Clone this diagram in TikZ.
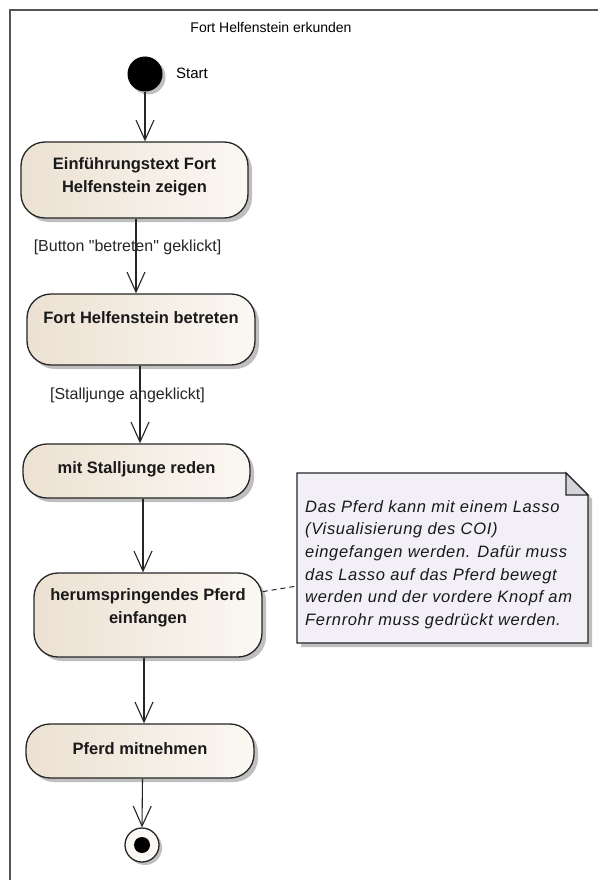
\documentclass[tikz,border=0pt]{standalone}
\usepackage{fontspec}
\newfontfamily\arial{Liberation Sans}
\newfontfamily\notefont[LetterSpace=4]{Liberation Sans}
\usetikzlibrary{arrows.meta,shadows,calc}

\definecolor{frameline}{RGB}{85,85,85}
\definecolor{actleft}{RGB}{236,225,210}
\definecolor{actright}{RGB}{251,248,243}
\definecolor{notefill}{RGB}{242,240,246}
\definecolor{foldfill}{RGB}{214,212,218}
\definecolor{shadowgray}{RGB}{175,175,175}

\tikzset{
  actbox/.style={draw=black!85, line width=1.3pt, rounded corners=24pt,
    left color=actleft, right color=actright, inner sep=0pt,
    drop shadow={shadow xshift=4pt, shadow yshift=-4pt, fill=shadowgray, opacity=0.8}},
  acttext/.style={font=\arial\bfseries\fontsize{16.5}{23}\selectfont, align=center, text=black!90, inner sep=0pt},
  flow/.style={draw=black!85, line width=1.1pt, -{Straight Barb[length=20pt, width=18pt]}},
  guard/.style={font=\arial\fontsize{16}{19}\selectfont, text=black!85, inner sep=0pt},
}

\begin{document}
\begin{tikzpicture}[x=1pt, y=-1pt]
\useasboundingbox (0,0) rectangle (597,880);
\fill[white] (0,0) rectangle (597,880);

% activity frame and its name
\draw[frameline, line width=2.2pt] (10,890) -- (10,10) -- (610,10);
\node[font=\arial\fontsize{14}{16}\selectfont, inner sep=0pt] (title) at (271,27) {Fort Helfenstein erkunden};

% initial node
\node[circle, fill=black, minimum size=35pt, inner sep=0pt,
  drop shadow={shadow xshift=3pt, shadow yshift=-3pt, fill=shadowgray, opacity=0.8}] (start) at (145,74) {};
\node[font=\arial\fontsize{15}{18}\selectfont, inner sep=0pt, anchor=west] (startlbl) at (176,73) {Start};

% actions
\node[actbox, minimum width=227pt, minimum height=76pt] (b1) at (134.5,180) {};
\node[acttext] (t1) at (134.5,177) {Einführungstext Fort\\Helfenstein zeigen};

\node[actbox, minimum width=228pt, minimum height=71pt] (b2) at (141,329.5) {};
\node[acttext] (t2) at (141,318) {Fort Helfenstein betreten};

\node[actbox, minimum width=227pt, minimum height=54pt] (b3) at (136.5,471) {};
\node[acttext] (t3) at (136.5,469) {mit Stalljunge reden};

\node[actbox, minimum width=228pt, minimum height=84pt] (b4) at (148,615) {};
\node[acttext] (t4) at (148,608) {herumspringendes Pferd\\einfangen};

\node[actbox, minimum width=228pt, minimum height=54pt] (b5) at (140,751) {};
\node[acttext] (t5) at (140,749) {Pferd mitnehmen};

% final node
\node[circle, draw=black!85, line width=1.3pt, fill=actright, minimum size=34pt, inner sep=0pt,
  drop shadow={shadow xshift=3pt, shadow yshift=-3pt, fill=shadowgray, opacity=0.8}] (final) at (142,845) {};
\node[circle, fill=black, minimum size=16pt, inner sep=0pt] (finaldot) at (final.center) {};

% control flows (leaving points a little off the box centres)
\coordinate (f1) at ($(b1.south)+(1.5,0)$);
\coordinate (f2) at ($(b2.south)+(-1,0)$);
\coordinate (f3) at ($(b3.south)+(6.5,0)$);
\coordinate (f4) at ($(b4.south)+(-4,0)$);
\coordinate (f5) at ($(b5.south)+(2.5,0)$);
\draw[flow] (start.south) -- (start.south |- b1.north);
\draw[flow] (f1) -- (f1 |- b2.north);
\draw[flow] (f2) -- (f2 |- b3.north);
\draw[flow] (f3) -- (f3 |- b4.north);
\draw[flow] (f4) -- (f4 |- b5.north);
\draw[flow] (f5) -- (final.north);

% guards
\node[guard] (g1) at (127.5,247) {[Button "betreten" geklickt]};
\node[guard] (g2) at (127.5,395) {[Stalljunge angeklickt]};

% note with folded corner
\coordinate (nA) at (297,473);
\coordinate (nB) at (566,473);
\coordinate (nC) at (588,495);
\coordinate (nD) at (588,643);
\coordinate (nE) at (297,643);
\fill[shadowgray, opacity=0.8] ($(nA)+(4,4)$) -- ($(nB)+(4,4)$) -- ($(nC)+(4,4)$) -- ($(nD)+(4,4)$) -- ($(nE)+(4,4)$) -- cycle;
\draw[draw=black!85, line width=1.3pt, fill=notefill] (nA) -- (nB) -- (nC) -- (nD) -- (nE) -- cycle;
\draw[draw=black!85, line width=1.1pt, fill=foldfill] (nB) -- (566,495) -- (nC) -- cycle;
\node[anchor=north west, align=left, inner sep=0pt, text=black!90,
  font=\notefont\itshape\fontsize{16.5}{22.7}\selectfont] (notetext) at (305,500)
  {Das Pferd kann mit einem Lasso\\(Visualisierung des COI)\\eingefangen werden. Dafür muss\\das Lasso auf das Pferd bewegt\\werden und der vordere Knopf am\\Fernrohr muss gedrückt werden.};

% note link
\coordinate (notelink) at (297,586);
\draw[black!85, line width=1pt, dash pattern=on 5pt off 4pt]
  ($(b4.north east)!0.226!(b4.south east)$) -- (notelink);
\end{tikzpicture}
\end{document}
